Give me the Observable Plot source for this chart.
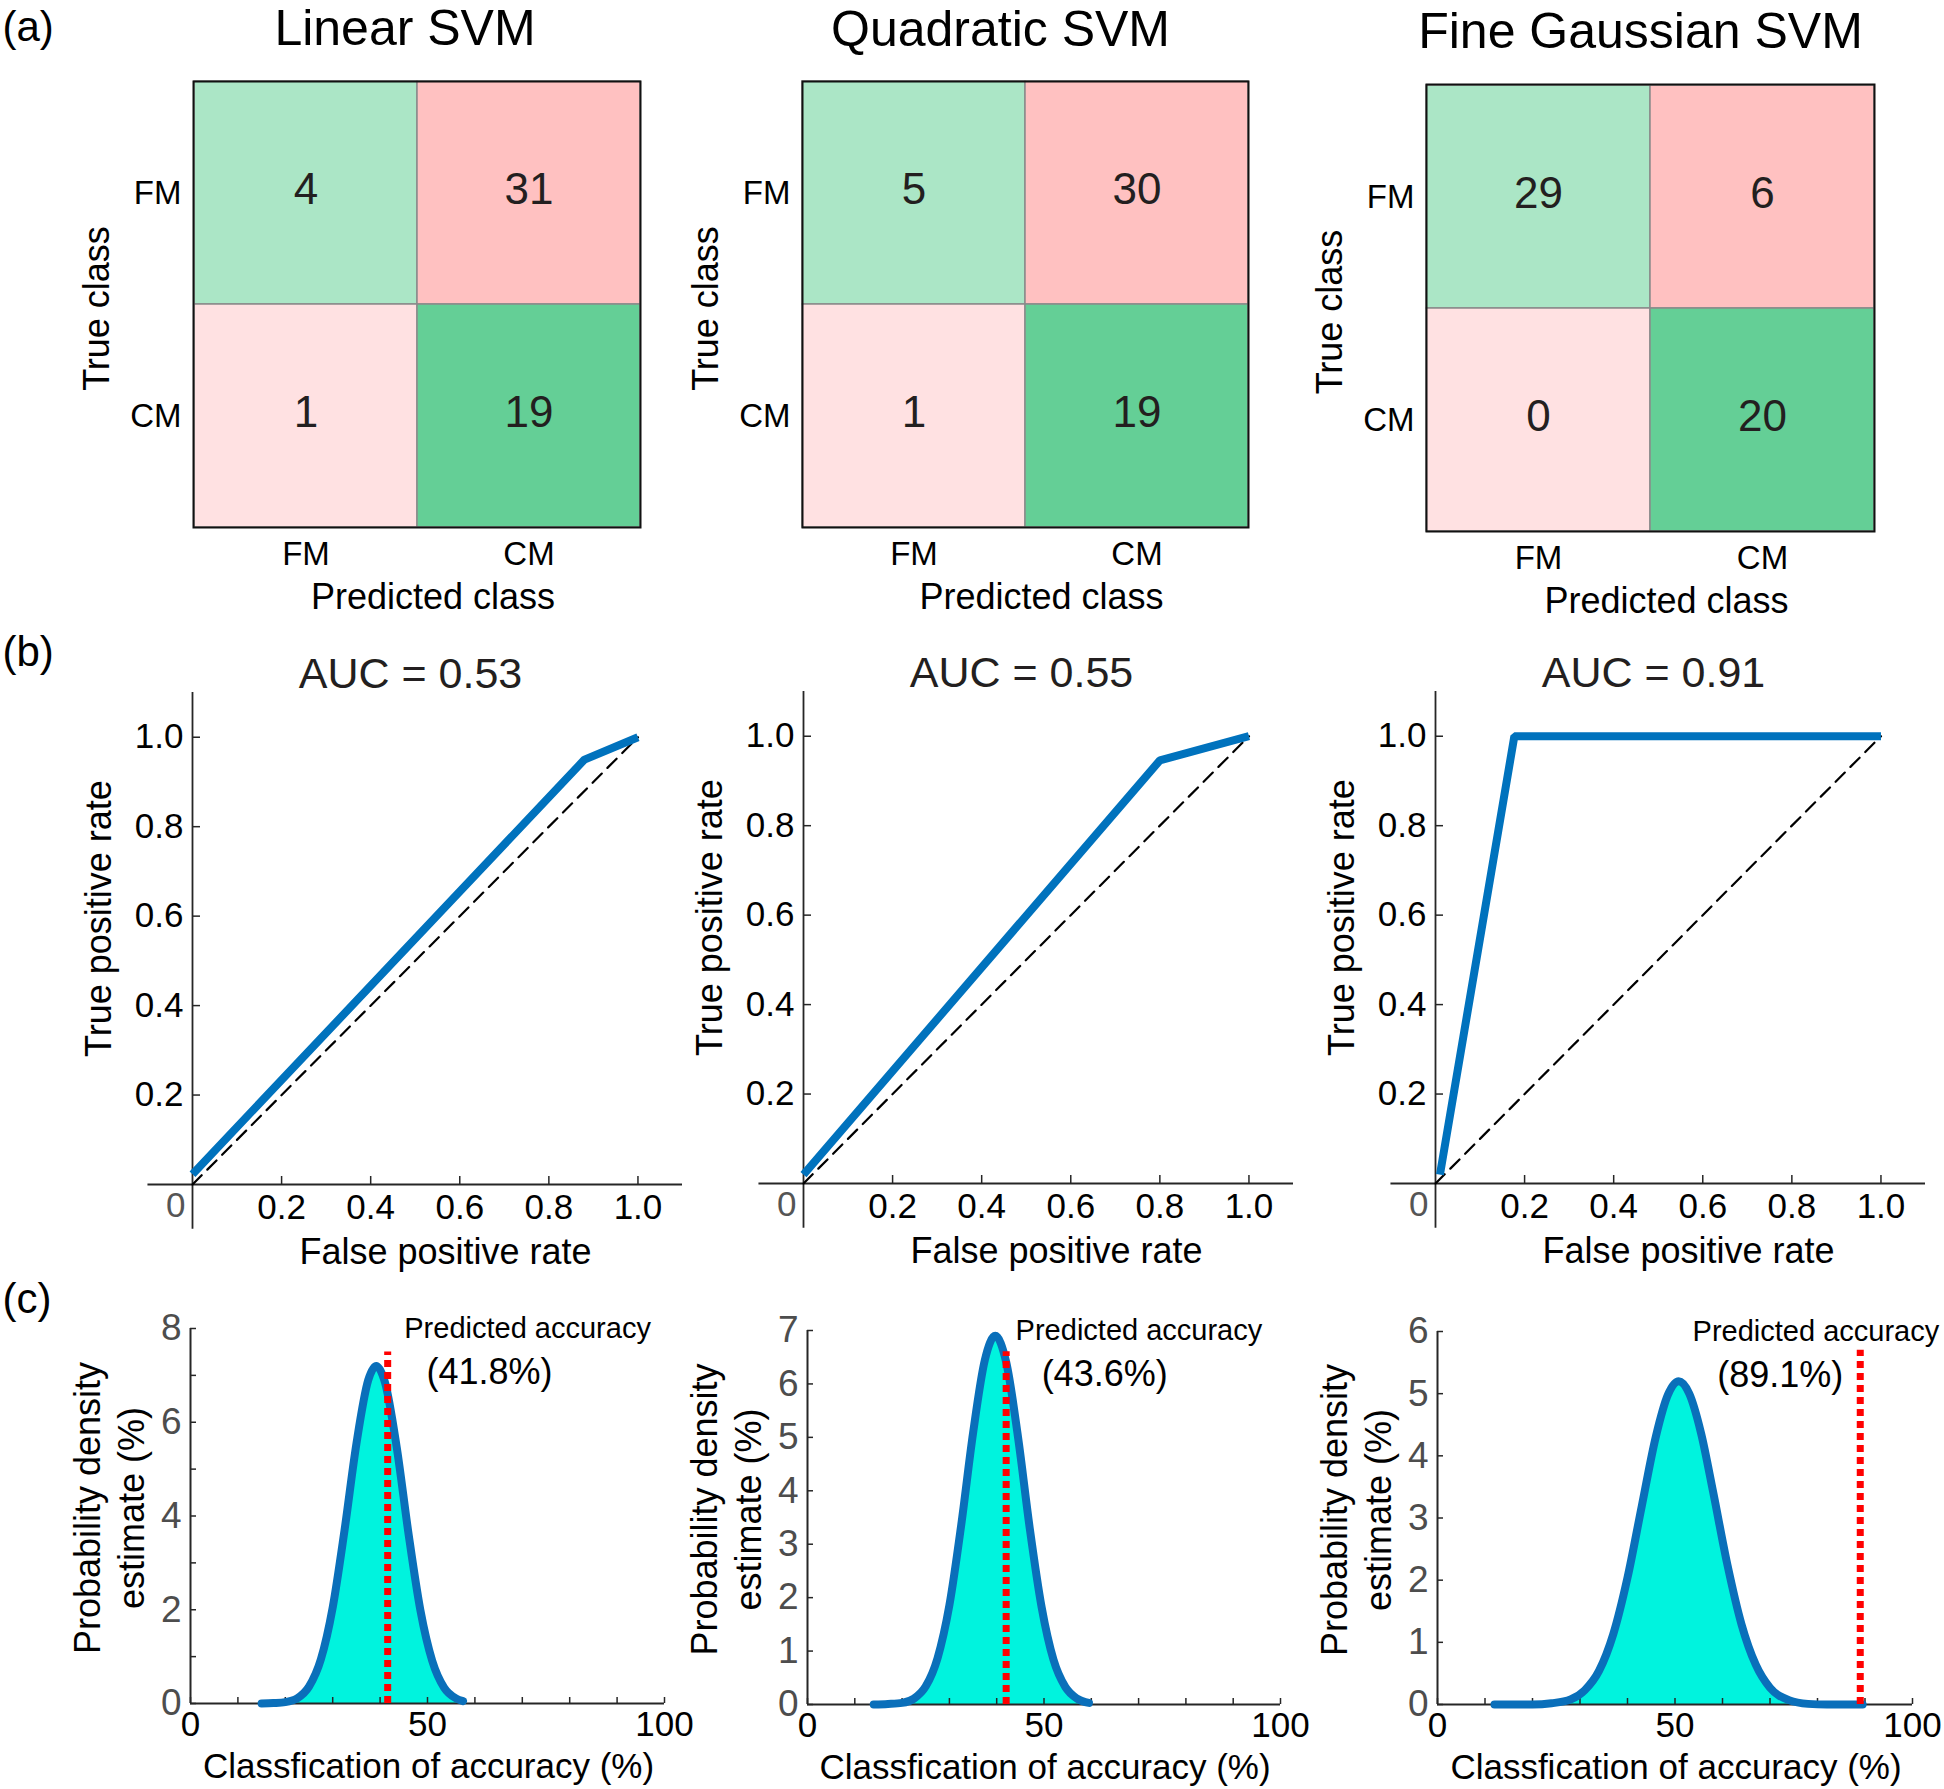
<!DOCTYPE html>
<html><head><meta charset="utf-8">
<script src="https://cdn.jsdelivr.net/npm/d3@7"></script>
<script src="https://cdn.jsdelivr.net/npm/@observablehq/plot@0.6"></script>
<style>
html,body{margin:0;padding:0;background:#fff;}
#fig{position:relative;width:1944px;height:1789px;background:#fff;overflow:hidden;}
#fig svg{position:absolute;overflow:visible;}
</style></head><body><div id="fig"></div>
<script>
// ---------------- data ----------------
const models = ["Linear SVM", "Quadratic SVM", "Fine Gaussian SVM"];
const classes = ["FM", "CM"];
// rows = true class (FM, CM), columns = predicted class (FM, CM)
const confLinear = [[4, 31], [1, 19]];
const confQuadratic = [[5, 30], [1, 19]];
const confGaussian = [[29, 6], [0, 20]];

const aucValues = [0.53, 0.55, 0.91];
const rocFprLinear = [0, 0.88, 1.0];
const rocTprLinear = [0.023, 0.95, 1.0];
const rocFprQuadratic = [0, 0.80, 1.0];
const rocTprQuadratic = [0.02, 0.946, 1.0];
const rocFprGaussian = [0.01, 0.177, 1.0];
const rocTprGaussian = [0.02, 1.0, 1.0];
const chanceLine = [0, 1];
const rocTicks = [0.2, 0.4, 0.6, 0.8, 1.0];

const accLinear = [15, 17.5, 20, 22.5, 25, 27.5, 30, 32.5, 35, 37.5, 39.2, 41, 43.5, 46, 48.5, 51, 53.5, 56, 57.5];
const densLinear = [0.00, 0.01, 0.03, 0.11, 0.36, 0.94, 2.05, 3.70, 5.54, 6.90, 7.20, 6.86, 5.47, 3.62, 1.99, 0.91, 0.34, 0.11, 0.05];
const accQuadratic = [14, 17, 20, 22.5, 25, 27.5, 30, 32.5, 35, 37.5, 39.7, 42, 44.5, 47, 49.5, 52, 54.5, 57, 59.5];
const densQuadratic = [0.00, 0.01, 0.03, 0.11, 0.34, 0.87, 1.86, 3.36, 5.08, 6.45, 6.90, 6.41, 5.01, 3.29, 1.82, 0.84, 0.33, 0.11, 0.03];
const accGaussian = [12, 16, 20, 24, 28, 31, 34, 37, 40, 43, 46, 48.5, 50.8, 53, 55.5, 58, 61, 64, 67, 70, 74, 78, 82, 86, 89.5];
const densGaussian = [0, 0, 0.00, 0.02, 0.08, 0.23, 0.54, 1.13, 2.04, 3.19, 4.32, 4.98, 5.20, 5.00, 4.36, 3.43, 2.26, 1.29, 0.64, 0.27, 0.07, 0.01, 0, 0, 0];

const predictedAccuracy = [41.8, 43.6, 89.1];
const predLineX = [41.6, 42.0, 89.0];
const predLineTop = [7.5, 6.6, 5.7];
const densYMax = [8, 7, 6];
const densTicksLinear = [0, 1, 2, 3, 4, 5, 6, 7, 8];
const densTicksQuadratic = [0, 1, 2, 3, 4, 5, 6, 7];
const densTicksGaussian = [0, 1, 2, 3, 4, 5, 6];
const densLabelsLinear = [0, 2, 4, 6, 8];
const accTicks = [0, 10, 20, 30, 40, 50, 60, 70, 80, 90, 100];
const accLabelTicks = [0, 50, 100];

// ---------------- styling / layout ----------------
const FONT = '"Liberation Sans", Arial, Helvetica, sans-serif';
const cellKeys = ["FM|FM", "FM|CM", "CM|FM", "CM|CM"];
const cellColors = ["#abe6c6", "#ffc1c1", "#ffe1e2", "#64cf96"];
const BLUE = "#0072bd";
const AXIS = "#262626";
const fig = document.getElementById("fig");
function place(svg, left, top) {
  svg.style.left = left + "px";
  svg.style.top = top + "px";
  fig.appendChild(svg);
}
const baseStyle = {fontFamily: FONT, background: "transparent", overflow: "visible", color: "#000"};
const T = {textAnchor: "middle", lineAnchor: "middle"};
const ident = d => d;

const confusions = [confLinear, confQuadratic, confGaussian];
const rocFpr = [rocFprLinear, rocFprQuadratic, rocFprGaussian];
const rocTpr = [rocTprLinear, rocTprQuadratic, rocTprGaussian];
const accs = [accLinear, accQuadratic, accGaussian];
const denss = [densLinear, densQuadratic, densGaussian];
const densTicks = [densTicksLinear, densTicksQuadratic, densTicksGaussian];
const densLabels = [densLabelsLinear, densTicksQuadratic, densTicksGaussian];

// ---- row (a): confusion matrices ----
const layoutA = [
  {left: 0, fl: 193, fr: 640, ft: 81, fb: 527, tdx: -12, tdy: -53},
  {left: 650, fl: 802, fr: 1248, ft: 81, fb: 527, tdx: -25, tdy: -52},
  {left: 1280, fl: 1426, fr: 1874, ft: 84, fb: 531, tdx: -10, tdy: -53}
];
function panelA(i) {
  const L = layoutA[i], H = 620;
  const cells = [];
  classes.forEach((t, r) => classes.forEach((p, c) =>
    cells.push({trueClass: t, predClass: p, count: confusions[i][r][c], key: t + "|" + p})));
  const marks = [
    Plot.cell(cells, {x: "predClass", y: "trueClass", fill: "key", stroke: "#8a8a8a", strokeWidth: 1.5}),
    Plot.frame({stroke: "#111", strokeWidth: 2}),
    Plot.text(cells, {x: "predClass", y: "trueClass", text: d => String(d.count), fontSize: 44, fill: "#231f20", dy: -3}),
    Plot.axisX({tickSize: 0, tickPadding: 14, fontSize: 33, label: null}),
    Plot.axisY({tickSize: 0, tickPadding: 12, fontSize: 33, label: null}),
    Plot.text([models[i]], {...T, text: ident, frameAnchor: "top", dx: L.tdx, dy: L.tdy, fontSize: 50}),
    Plot.text(["True class"], {...T, text: ident, frameAnchor: "left", rotate: -90, dx: -96, dy: 4, fontSize: 36}),
    Plot.text(["Predicted class"], {...T, text: ident, frameAnchor: "bottom", dx: 16, dy: 70, fontSize: 36})
  ];
  if (i === 0) marks.push(Plot.text(["(a)"], {text: ident, frameAnchor: "top-left", textAnchor: "start", lineAnchor: "middle", dx: -191, dy: -54, fontSize: 42}));
  const svg = Plot.plot({
    width: L.fr + 40 - L.left, height: H,
    marginLeft: L.fl - L.left, marginRight: 40, marginTop: L.ft, marginBottom: H - L.fb,
    style: baseStyle,
    x: {type: "band", domain: classes, padding: 0, label: null},
    y: {type: "band", domain: classes, padding: 0, label: null},
    color: {type: "ordinal", domain: cellKeys, range: cellColors},
    marks
  });
  place(svg, L.left, 0);
}

// ---- row (b): ROC curves ----
const layoutB = [
  {left: 0, ox: 192, oy: 1184, mr: 20},
  {left: 655, ox: 803, oy: 1183, mr: 20},
  {left: 1290, ox: 1435, oy: 1183, mr: 9}
];
const FW = 490, FH = 492;
function panelB(i) {
  const L = layoutB[i], top = 620, H = 650;
  const mt = L.oy - FH - top;
  const pts = rocFpr[i].map((f, k) => ({fpr: f, tpr: rocTpr[i][k]}));
  const fmt = d3.format(".1f");
  const marks = [
    Plot.ruleY([0], {x1: -0.1, x2: 1.1, stroke: AXIS, strokeWidth: 1.8}),
    Plot.ruleX([0], {y1: -0.1, y2: 1.1, stroke: AXIS, strokeWidth: 1.8}),
    Plot.axisX({ticks: rocTicks, tickSize: -8, tickFormat: () => "", label: null, stroke: AXIS, strokeWidth: 1.5}),
    Plot.axisY({ticks: rocTicks, tickSize: -8, tickFormat: () => "", label: null, stroke: AXIS, strokeWidth: 1.5}),
    Plot.axisX({ticks: rocTicks, tickSize: 0, tickPadding: 10, tickFormat: fmt, fontSize: 35, label: null}),
    Plot.axisY({ticks: rocTicks, tickSize: 0, tickPadding: 9, tickFormat: fmt, fontSize: 35, label: null}),
    Plot.text(["0"], {text: ident, frameAnchor: "bottom-left", textAnchor: "end", lineAnchor: "middle", dx: -7, dy: 21, fill: "#555", fontSize: 35}),
    Plot.line(chanceLine, {x: ident, y: ident, stroke: "#000", strokeWidth: 2.2, strokeDasharray: "13,8"}),
    Plot.line(pts, {x: "fpr", y: "tpr", stroke: BLUE, strokeWidth: 8, strokeLinejoin: "miter", strokeLinecap: "butt"}),
    Plot.text([`AUC = ${aucValues[i].toFixed(2)}`], {...T, text: ident, frameAnchor: "top", dx: -27, dy: -18, fontSize: 43, fill: "#231f20"}),
    Plot.text(["True positive rate"], {...T, text: ident, frameAnchor: "left", rotate: -90, dx: -93, dy: -20, fontSize: 36}),
    Plot.text(["False positive rate"], {...T, text: ident, frameAnchor: "bottom", dx: 8, dy: 68, fontSize: 36})
  ];
  if (i === 0) marks.push(Plot.text(["(b)"], {text: ident, frameAnchor: "top-left", textAnchor: "start", lineAnchor: "middle", dx: -190, dy: -40, fontSize: 42}));
  const svg = Plot.plot({
    width: L.ox - L.left + FW + L.mr, height: H,
    marginLeft: L.ox - L.left, marginRight: L.mr, marginTop: mt, marginBottom: H - mt - FH,
    style: baseStyle,
    x: {domain: [0, 1.1], label: null},
    y: {domain: [0, 1.1], label: null},
    marks
  });
  place(svg, L.left, top);
}

// ---- row (c): accuracy density ----
const layoutC = [
  {left: 0, fl: 190, fr: 664, ft: 1328, fb: 1703, mr: 40, pa: 45.1, pb: 49.8},
  {left: 655, fl: 807, fr: 1280, ft: 1330, fb: 1704, mr: 40, pa: 44.0, pb: 49.5},
  {left: 1290, fl: 1437, fr: 1912, ft: 1331, fb: 1704, mr: 32, pa: 53.7, pb: 58.9}
];
function panelC(i) {
  const L = layoutC[i], top = 1270, H = 519;
  const pts = accs[i].map((x, k) => ({acc: x, dens: denss[i][k]}));
  const marks = [
    Plot.areaY(pts, {x: "acc", y: "dens", fill: "#00f3de", curve: "monotone-x"}),
    Plot.ruleY([0], {x1: 0, x2: 100, stroke: AXIS, strokeWidth: 2}),
    Plot.ruleX([0], {y1: 0, y2: densYMax[i], stroke: AXIS, strokeWidth: 2}),
    Plot.axisX({ticks: accTicks, tickSize: -6, tickFormat: () => "", label: null, stroke: AXIS, strokeWidth: 1.5}),
    Plot.axisY({ticks: densTicks[i], tickSize: -6, tickFormat: () => "", label: null, stroke: AXIS, strokeWidth: 1.5}),
    Plot.axisX({ticks: accLabelTicks, tickSize: 0, tickPadding: 8, tickFormat: d3.format("d"), fontSize: 35, label: null}),
    Plot.axisY({ticks: densLabels[i], tickSize: 0, tickPadding: 9, tickFormat: d3.format("d"), fontSize: 37, fill: "#4d4d4d", label: null}),
    Plot.lineY(pts, {x: "acc", y: "dens", stroke: "#0a6fba", strokeWidth: 8, curve: "monotone-x"}),
    Plot.ruleX([predLineX[i]], {y1: 0, y2: predLineTop[i], stroke: "#ff0000", strokeWidth: 7, strokeDasharray: "7,5"}),
    Plot.text([{x: L.pa}], {x: "x", frameAnchor: "top", text: () => "Predicted accuracy", textAnchor: "start", lineAnchor: "middle", fontSize: 29}),
    Plot.text([{x: L.pb}], {x: "x", frameAnchor: "top", dy: 44, text: () => `(${predictedAccuracy[i].toFixed(1)}%)`, textAnchor: "start", lineAnchor: "middle", fontSize: 36}),
    Plot.text(["Probability density"], {...T, text: ident, frameAnchor: "left", rotate: -90, dx: -102, dy: -8, fontSize: 36}),
    Plot.text(["estimate (%)"], {...T, text: ident, frameAnchor: "left", rotate: -90, dx: -58, dy: -8, fontSize: 36}),
    Plot.text(["Classfication of accuracy (%)"], {...T, text: ident, frameAnchor: "bottom", dx: 1, dy: 63, fontSize: 35})
  ];
  if (i === 0) marks.push(Plot.text(["(c)"], {text: ident, frameAnchor: "top-left", textAnchor: "start", lineAnchor: "middle", dx: -188, dy: -29, fontSize: 42}));
  const svg = Plot.plot({
    width: L.fr + L.mr - L.left, height: H,
    marginLeft: L.fl - L.left, marginRight: L.mr, marginTop: L.ft - top, marginBottom: top + H - L.fb,
    style: baseStyle,
    x: {domain: [0, 100], label: null},
    y: {domain: [0, densYMax[i]], label: null},
    marks
  });
  place(svg, L.left, top);
}

for (let i = 0; i < 3; i++) { panelA(i); panelB(i); panelC(i); }
</script>
</body></html>
